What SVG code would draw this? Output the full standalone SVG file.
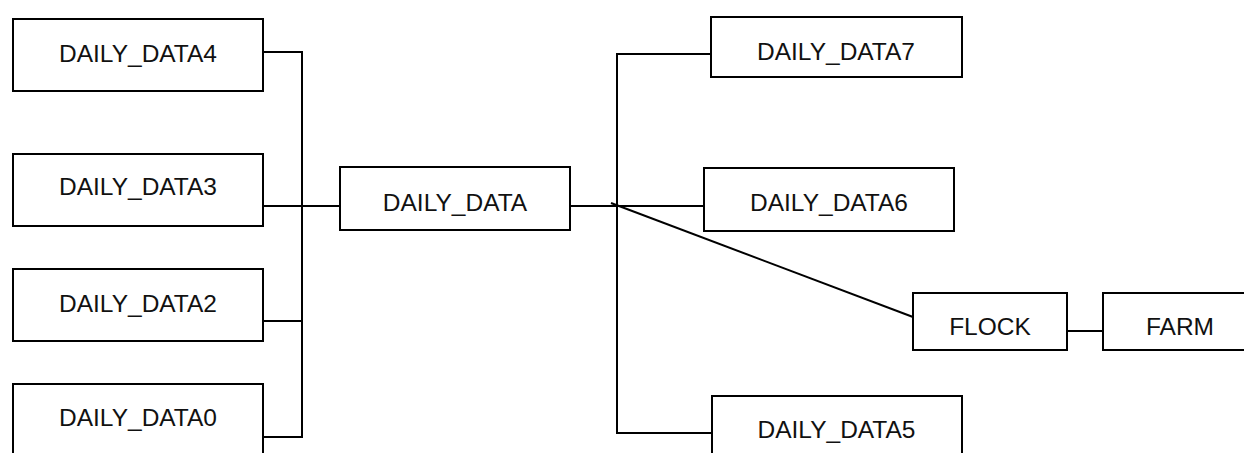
<svg xmlns="http://www.w3.org/2000/svg" width="1244" height="453" viewBox="0 0 1244 453">
  <style>
    .box { fill: #ffffff; stroke: #000000; stroke-width: 2; }
    .lbl { font-family: "Liberation Sans", Arial, sans-serif; font-size: 24.5px; fill: #111111; text-anchor: middle; }
    .wire { fill: none; stroke: #000000; stroke-width: 2; }
  </style>
  <rect x="0" y="0" width="1244" height="453" fill="#ffffff"/>

  <!-- connectors -->
  <g id="connectors">
    <path class="wire" d="M263 52 H302 V437 H263"/>
    <path class="wire" d="M263 206 H340"/>
    <path class="wire" d="M263 321 H302"/>
    <path class="wire" d="M570 206 H705"/>
    <path class="wire" d="M711 54 H617 V433 H712"/>
    <path class="wire" d="M611 203 L913 317"/>
    <path class="wire" d="M1065 331 H1103"/>
  </g>

  <!-- tables -->
  <g id="daily_data4">
    <rect class="box" x="13" y="19" width="250" height="72"/>
    <text class="lbl" x="138" y="62">DAILY_DATA4</text>
  </g>
  <g id="daily_data3">
    <rect class="box" x="13" y="154" width="250" height="72"/>
    <text class="lbl" x="138" y="195">DAILY_DATA3</text>
  </g>
  <g id="daily_data2">
    <rect class="box" x="13" y="269" width="250" height="72"/>
    <text class="lbl" x="138" y="312">DAILY_DATA2</text>
  </g>
  <g id="daily_data0">
    <rect class="box" x="13" y="384" width="250" height="72"/>
    <text class="lbl" x="138" y="426">DAILY_DATA0</text>
  </g>
  <g id="daily_data">
    <rect class="box" x="340" y="167" width="230" height="63"/>
    <text class="lbl" x="455" y="211">DAILY_DATA</text>
  </g>
  <g id="daily_data7">
    <rect class="box" x="711" y="17" width="251" height="60"/>
    <text class="lbl" x="836" y="60">DAILY_DATA7</text>
  </g>
  <g id="daily_data6">
    <rect class="box" x="704" y="168" width="250" height="63"/>
    <text class="lbl" x="829" y="211">DAILY_DATA6</text>
  </g>
  <g id="daily_data5">
    <rect class="box" x="712" y="396" width="250" height="72"/>
    <text class="lbl" x="836.5" y="438">DAILY_DATA5</text>
  </g>
  <g id="flock">
    <rect class="box" x="913" y="293" width="154" height="57"/>
    <text class="lbl" x="990" y="335">FLOCK</text>
  </g>
  <g id="farm">
    <rect class="box" x="1103" y="293" width="154" height="57"/>
    <text class="lbl" x="1180" y="335">FARM</text>
  </g>
</svg>
